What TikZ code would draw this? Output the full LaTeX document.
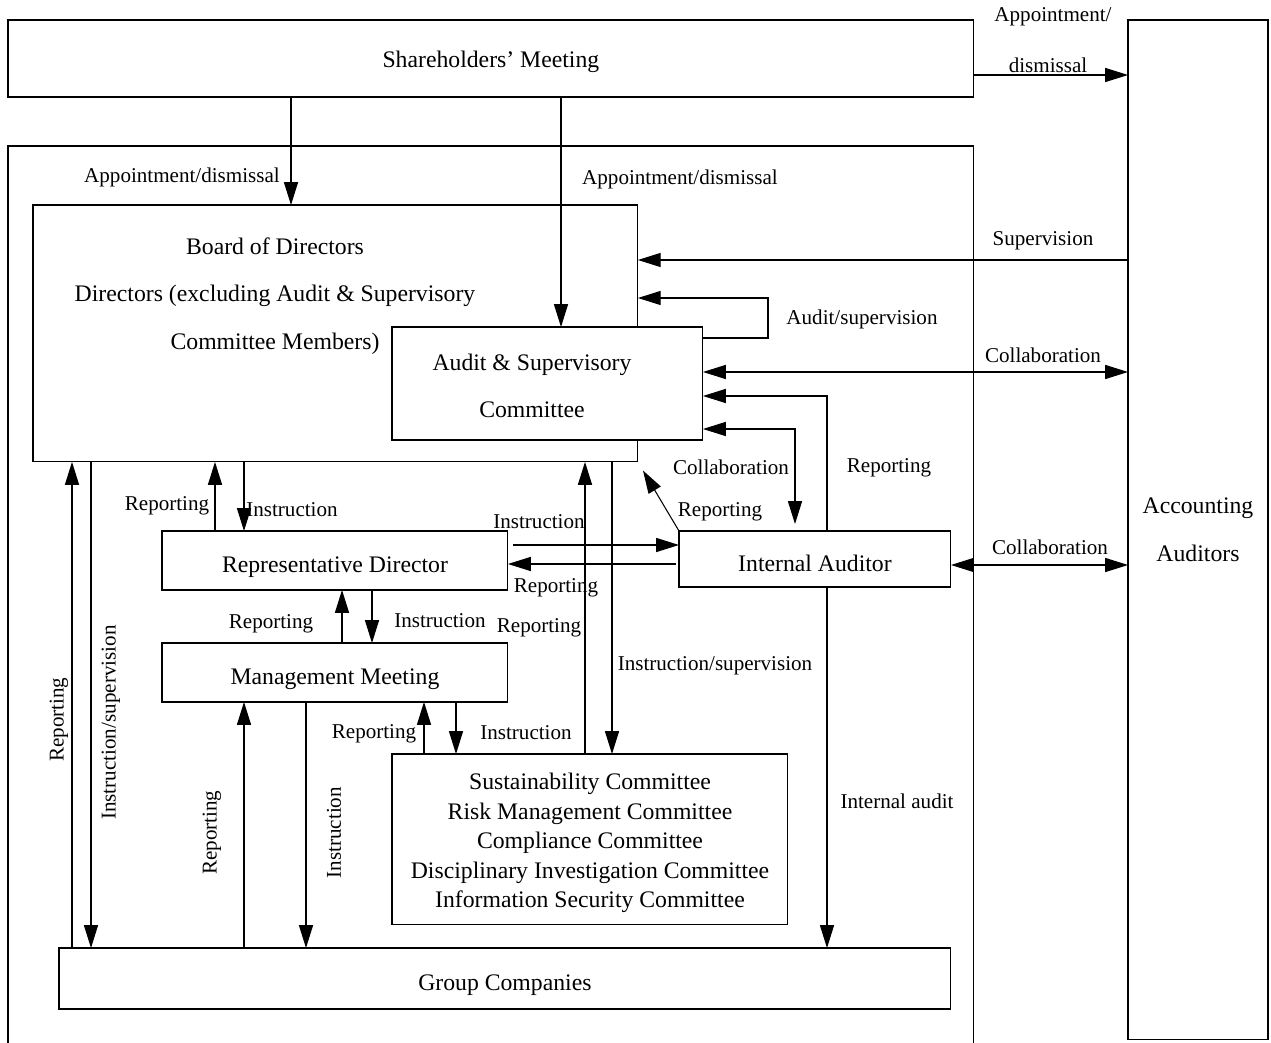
\documentclass[tikz,border=0pt]{standalone}
\usepackage{fontspec}
\setmainfont{Liberation Serif}
\usetikzlibrary{arrows.meta,positioning}

\begin{document}
\begin{tikzpicture}[x=0.02cm, y=-0.02cm, line width=0.6pt,
    box/.style={draw, inner sep=0pt, outer sep=0pt, anchor=north west, align=center, font=\fontsize{13.5}{16}\selectfont},
    onebox/.style={box, text height=1.6em, text depth=0.22em},
    txt/.style={align=center, font=\fontsize{13.5}{16}\selectfont},
    lbl/.style={inner sep=1pt, yshift=-1.5pt, font=\fontsize{12}{14}\selectfont},
    arr/.style={-{Triangle[length=13pt,width=8pt]}},
    dbl/.style={{Triangle[length=13pt,width=8pt]}-{Triangle[length=13pt,width=8pt]}}]
    \clip (0,0) rectangle (1271,1043);

    % boxes
    \node[box, minimum width=19.32cm, minimum height=1.54cm, text height=1.25em, text depth=0.22em] (share) at (8,20) {Shareholders’ Meeting};
    \node[box, minimum width=2.8cm, minimum height=20.4cm] (acct) at (1128,20) {Accounting\\[0.4cm]Auditors};
    \node[box, minimum width=19.32cm, minimum height=18.6cm] (frame) at (8,146) {};
    \node[box, minimum width=12.1cm, minimum height=5.14cm] (bd) at (33,205) {};
    \node[txt] (bdtext) at (275,296) {Board of Directors\\[0.39cm]Directors (excluding Audit \& Supervisory\\[0.39cm]Committee Members)};
    \node[box, fill=white, minimum width=6.22cm, minimum height=2.26cm] (aud) at (392,327) {};
    \node[txt] (audtext) at (532,386) {Audit \& Supervisory\\[0.39cm]Committee};
    \node[onebox, minimum width=6.92cm, minimum height=1.18cm] (rd) at (162,531) {Representative Director};
    \node[onebox, minimum width=5.44cm, minimum height=1.12cm] (ia) at (679,531) {Internal Auditor};
    \node[onebox, minimum width=6.92cm, minimum height=1.18cm] (mm) at (162,643) {Management Meeting};
    \node[box, minimum width=7.92cm, minimum height=3.42cm] (com) at (392,754) {};
    \node[txt, font=\fontsize{13.5}{16.7}\selectfont] (comtext) at (590,843) {Sustainability Committee\\Risk Management Committee\\Compliance Committee\\Disciplinary Investigation Committee\\Information Security Committee};
    \node[onebox, minimum width=17.84cm, minimum height=1.22cm] (grp) at (59,948) {Group Companies};

    % connectors
    \draw[arr] (share.east |- 0,75) -- (acct.west |- 0,75);
    \draw[arr] (share.south -| 291,0) -- (bd.north -| 291,0);
    \draw[arr] (share.south -| 561,0) -- (aud.north -| 561,0);
    \draw[arr] (acct.west |- 0,260) -- (bd.east |- 0,260);
    \draw[arr] (aud.east |- 0,338) -- (768,338) |- (bd.east |- 0,298);
    \draw[dbl] (aud.east |- 0,372) -- (acct.west |- 0,372);
    \draw[arr] (ia.north -| 827,0) |- (aud.east |- 0,396);
    \draw[dbl, shorten >=0.14cm] (aud.east |- 0,429) -| (ia.north -| 795,0);
    \draw[arr, shorten >=0.2cm] (ia.north west) -- (bd.south east);
    \draw[dbl] (ia.east |- 0,565) -- (acct.west |- 0,565);
    \draw[arr, shorten <=0.1cm] (rd.east |- 0,545) -- (ia.west |- 0,545);
    \draw[arr, shorten <=0.06cm] (ia.west |- 0,564) -- (rd.east |- 0,564);
    \draw[arr] (rd.north -| 215,0) -- (bd.south -| 215,0);
    \draw[arr] (bd.south -| 244,0) -- (rd.north -| 244,0);
    \draw[arr] (mm.north -| 342,0) -- (rd.south -| 342,0);
    \draw[arr] (rd.south -| 372,0) -- (mm.north -| 372,0);
    \draw[arr] (com.north -| 424,0) -- (mm.south -| 424,0);
    \draw[arr] (mm.south -| 456,0) -- (com.north -| 456,0);
    \draw[arr] (com.north -| 585,0) -- (bd.south -| 585,0);
    \draw[arr] (bd.south -| 612,0) -- (com.north -| 612,0);
    \draw[arr] (ia.south -| 827,0) -- (grp.north -| 827,0);
    \draw[arr] (grp.north -| 72,0) -- (bd.south -| 72,0);
    \draw[arr] (bd.south -| 91,0) -- (grp.north -| 91,0);
    \draw[arr] (grp.north -| 244,0) -- (mm.south -| 244,0);
    \draw[arr] (mm.south -| 306,0) -- (grp.north -| 306,0);

    % labels
    \node[lbl] (lapp) at (1053,14) {Appointment/};
    \node[lbl] (ldis) at (1048,63) {dismissal};
    \node[lbl] (lappbd) at (182,175) {Appointment/dismissal};
    \node[lbl] (lappaud) at (680,177) {Appointment/dismissal};
    \node[lbl] (lsup) at (1043,238) {Supervision};
    \node[lbl] (laudsup) at (862,317) {Audit/supervision};
    \node[lbl] (lcolacct) at (1043,353) {Collaboration};
    \node[lbl] (lrepaud) at (889,465) {Reporting};
    \node[lbl] (lcolia) at (731,465) {Collaboration};
    \node[lbl] (lrepbd) at (720,509) {Reporting};
    \node[lbl] (lcolia2) at (1050,545) {Collaboration};
    \node[lbl] (linsia) at (539,519) {Instruction};
    \node[lbl] (lrepia) at (556,585) {Reporting};
    \node[lbl] (lreprd) at (167,503) {Reporting};
    \node[lbl] (linsrd) at (292,507) {Instruction};
    \node[lbl] (lrepmm) at (271,621) {Reporting};
    \node[lbl] (linsmm) at (440,618) {Instruction};
    \node[lbl] (lrepcom) at (374,731) {Reporting};
    \node[lbl] (linscom) at (526,730) {Instruction};
    \node[lbl] (lrepcombd) at (539,625) {Reporting};
    \node[lbl] (linssup) at (715,663) {Instruction/supervision};
    \node[lbl] (lintaud) at (897,799) {Internal audit};
    \node[lbl, rotate=90] (lrepgrp) at (59,717) {Reporting};
    \node[lbl, rotate=90] (linsgrp) at (111,720) {Instruction/supervision};
    \node[lbl, rotate=90] (lrepgrpmm) at (212,830) {Reporting};
    \node[lbl, rotate=90] (linsgrpmm) at (334,830) {Instruction};
\end{tikzpicture}
\end{document}
